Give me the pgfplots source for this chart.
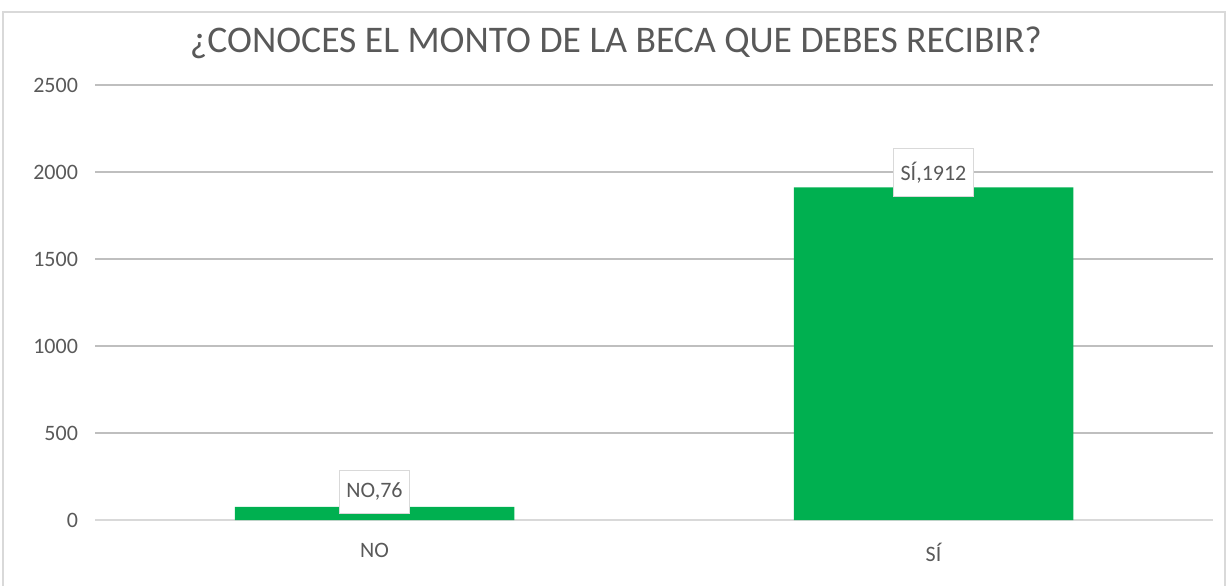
\documentclass[border=0pt]{standalone}
\usepackage{fontspec}
\setmainfont{Carlito}
\usepackage{pgfplots}
\pgfplotsset{compat=1.18}
\definecolor{bargreen}{HTML}{00B050}
\definecolor{txt}{HTML}{595959}
\definecolor{grid}{HTML}{D9D9D9}
\begin{document}
\begin{tikzpicture}[x=1pt,y=1pt]
\useasboundingbox (0,0) rectangle (614,292.5);
\draw[grid, line width=0.8pt] (1.5,-5) rectangle (612.5,286.5);
\node[text=txt, font=\fontsize{18.8}{22}\selectfont, anchor=center] at (308,271) {¿CONOCES EL MONTO DE LA BECA QUE DEBES RECIBIR?};
\begin{axis}[
  at={(47.5pt,32.5pt)}, anchor=south west,
  scale only axis, width=559pt, height=217.5pt,
  xmin=-0.5, xmax=1.5, ymin=0, ymax=2500,
  ytick={0,500,...,2500},
  xtick={0,1}, xticklabels={NO,SÍ},
  /pgf/number format/assume math mode=true,
  /pgf/number format/set thousands separator={},
  ymajorgrids, xmajorgrids=false, grid style={grid, line width=0.6pt},
  axis x line*=bottom, axis y line*=left,
  y axis line style={draw=none},
  x axis line style={grid, line width=0.6pt, -},
  major tick length=0pt, tick style={draw=none},
  tick label style={text=txt, font=\fontsize{11}{13}\selectfont},
  yticklabel style={xshift=-5pt},
  xticklabel style={yshift=-8pt},
  ybar, bar width=0.5,
  point meta=explicit symbolic,
  nodes near coords,
  every node near coord/.append style={anchor=center, yshift=7.5pt, fill=white, draw=grid, text=txt, font=\fontsize{11}{13}\selectfont, inner xsep=3.5pt, inner ysep=6.5pt},
  clip=false,
]
\addplot[fill=bargreen, draw=none] coordinates {(0,76) [NO,76] (1,1912) [SÍ,1912]};
\end{axis}
\end{tikzpicture}
\end{document}
